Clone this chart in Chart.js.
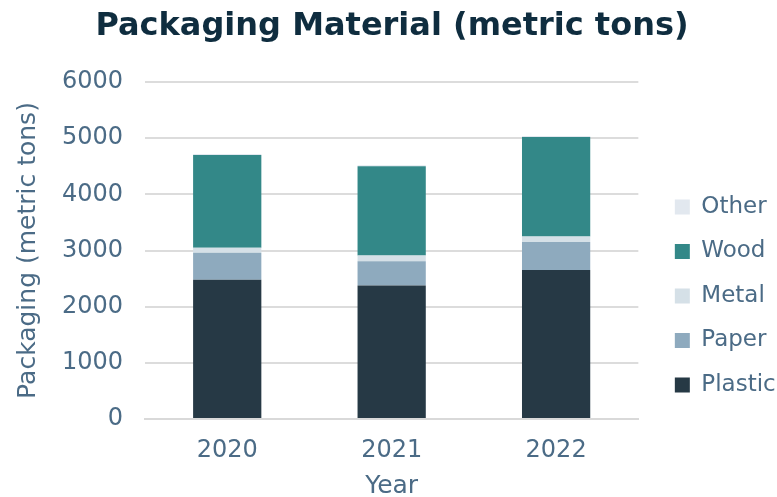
<!DOCTYPE html>
<html>
<head>
<meta charset="utf-8">
<script src="https://cdn.jsdelivr.net/npm/chart.js@4"></script>
<style>
  html, body { margin: 0; padding: 0; background: #ffffff; }
  #wrap { width: 777px; height: 497px; }
</style>
</head>
<body>
<div id="wrap"><canvas id="grafico"></canvas></div>
<script>
// Dados
const anos = ['2020', '2021', '2022'];
const plastico = [2480, 2375, 2655];
const papel = [480, 435, 495];
const metal = [90, 100, 100];
const madeira = [1650, 1590, 1770];
const outros = [20, 20, 20];
const ticksY = [0, 1000, 2000, 3000, 4000, 5000, 6000];

const corTexto = '#4b6b86';
const fonte = '"DejaVu Sans", "Open Sans", sans-serif';

const ctx = document.getElementById('grafico').getContext('2d');

new Chart(ctx, {
    type: 'bar',
    data: {
        labels: anos,
        datasets: [
            { label: 'Plastic', data: plastico, backgroundColor: '#263945' },
            { label: 'Paper', data: papel, backgroundColor: '#8eaabe' },
            { label: 'Metal', data: metal, backgroundColor: '#d5e0e7' },
            { label: 'Wood', data: madeira, backgroundColor: '#338888' },
            { label: 'Other', data: outros, backgroundColor: '#e2e8ef' }
        ]
    },
    options: {
        responsive: true,
        maintainAspectRatio: false,
        animation: false,
        layout: { padding: { left: 0, right: -7, top: 0, bottom: -2 } },
        datasets: {
            bar: { barPercentage: 0.415, categoryPercentage: 1 }
        },
        scales: {
            x: {
                stacked: true,
                afterFit: (eixo) => { eixo.height = 80; },
                grid: { display: false, drawTicks: false },
                border: { display: true, color: '#d9d9d9', width: 2 },
                ticks: { color: corTexto, font: { family: fonte, size: 24 }, padding: 17 },
                title: {
                    display: true, text: 'Year', color: corTexto,
                    font: { family: fonte, size: 25, lineHeight: 1 },
                    padding: { top: 10, bottom: 0 }
                }
            },
            y: {
                stacked: true,
                min: 0,
                max: 6000,
                afterBuildTicks: (eixo) => { eixo.ticks = ticksY.map(v => ({ value: v })); },
                afterFit: (eixo) => { eixo.width = 145; },
                grid: { color: '#dcdcdc', lineWidth: 2, drawTicks: false },
                border: { display: false },
                ticks: {
                    color: corTexto,
                    font: { family: fonte, size: 24 },
                    padding: 22,
                    callback: (v) => String(v)
                },
                title: {
                    display: true, text: 'Packaging (metric tons)', color: corTexto,
                    font: { family: fonte, size: 25 },
                    padding: { top: 13, bottom: 0 }
                }
            },
            // eixo vazio só para abrir espaço entre as barras e a legenda
            folga: {
                position: 'right',
                display: true,
                grid: { display: false, drawTicks: false },
                border: { display: false },
                ticks: { display: false },
                afterFit: (eixo) => { eixo.width = 15; }
            }
        },
        plugins: {
            title: {
                display: true,
                text: 'Packaging Material (metric tons)',
                color: '#0f2d3f',
                font: { family: fonte, size: 32, weight: 'bold' },
                padding: { top: 7, bottom: 36.6 }
            },
            legend: {
                position: 'right',
                reverse: true,
                title: {
                    display: true,
                    text: '',
                    font: { size: 9, lineHeight: 1 },
                    padding: { top: 84, bottom: 0 }
                },
                labels: {
                    color: corTexto,
                    font: { family: fonte, size: 23 },
                    boxWidth: 15,
                    boxHeight: 15,
                    padding: 21.5
                }
            },
            tooltip: { enabled: false }
        }
    }
});
</script>
</body>
</html>
